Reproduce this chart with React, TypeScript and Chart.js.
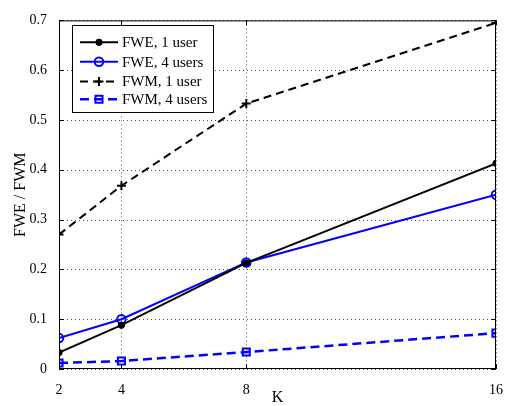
import React, { useEffect, useRef } from "react";
import { Chart, registerables } from "chart.js";
Chart.register(...registerables);

const kValues = [2, 4, 8, 16];
const fwe1 = [0.033, 0.088, 0.213, 0.413];
const fwe4 = [0.062, 0.1, 0.214, 0.35];
const fwm1 = [0.27, 0.368, 0.533, 0.695];
const fwm4 = [0.012, 0.016, 0.034, 0.072];
const seriesNames = ["FWE, 1 user", "FWE, 4 users", "FWM, 1 user", "FWM, 4 users"];
const yTicks = [0, 0.1, 0.2, 0.3, 0.4, 0.5, 0.6, 0.7];
const xTitle = "K";
const yTitle = "FWE / FWM";

const FONT = "'Liberation Serif', 'Times New Roman', serif";

function marker(ctx: any, ds: any, x: number, y: number) {
  const r = ds.pointRadius;
  ctx.save();
  ctx.strokeStyle = ds.pointBorderColor;
  ctx.fillStyle = ds.pointBackgroundColor;
  ctx.lineWidth = ds.pointBorderWidth;
  ctx.setLineDash([]);
  ctx.beginPath();
  if (ds.pointStyle === "circle") {
    ctx.arc(x, y, r, 0, Math.PI * 2);
    ctx.fill();
    ctx.stroke();
  } else if (ds.pointStyle === "rect") {
    const s = r * Math.SQRT1_2 * 2;
    ctx.rect(x - s / 2, y - s / 2, s, s);
    ctx.fill();
    ctx.stroke();
  } else if (ds.pointStyle === "cross") {
    ctx.moveTo(x - r, y);
    ctx.lineTo(x + r, y);
    ctx.moveTo(x, y - r);
    ctx.lineTo(x, y + r);
    ctx.stroke();
  }
  ctx.restore();
}

const gridPlugin = {
  id: "dotGrid",
  beforeDatasetsDraw(chart: any) {
    const { ctx, chartArea: a, scales } = chart;
    ctx.save();
    ctx.strokeStyle = "#555";
    ctx.lineWidth = 1;
    ctx.setLineDash([1, 3]);
    ctx.beginPath();
    for (const v of kValues) {
      const x = Math.round(scales.x.getPixelForValue(v)) + 0.5;
      ctx.moveTo(x, a.top);
      ctx.lineTo(x, a.bottom);
    }
    for (const v of yTicks) {
      const y = Math.round(scales.y.getPixelForValue(v)) + 0.5;
      ctx.moveTo(a.left, y);
      ctx.lineTo(a.right, y);
    }
    ctx.stroke();
    ctx.restore();
  },
};

const frame = {
  id: "frame",
  afterDatasetsDraw(chart: any) {
    const { ctx, chartArea: a, scales } = chart;
    ctx.save();
    ctx.strokeStyle = "#000";
    ctx.lineWidth = 1;
    ctx.strokeRect(a.left + 0.5, a.top + 0.5, a.right - a.left - 1, a.bottom - a.top - 1);
    ctx.beginPath();
    for (const v of kValues) {
      const x = Math.round(scales.x.getPixelForValue(v)) + 0.5;
      ctx.moveTo(x, a.bottom);
      ctx.lineTo(x, a.bottom - 5);
      ctx.moveTo(x, a.top);
      ctx.lineTo(x, a.top + 5);
    }
    for (const v of yTicks) {
      const y = Math.round(scales.y.getPixelForValue(v)) + 0.5;
      ctx.moveTo(a.left, y);
      ctx.lineTo(a.left + 5, y);
      ctx.moveTo(a.right, y);
      ctx.lineTo(a.right - 5, y);
    }
    ctx.stroke();

    // axis titles
    ctx.fillStyle = "#000";
    ctx.font = `16px ${FONT}`;
    ctx.textAlign = "center";
    ctx.textBaseline = "middle";
    ctx.fillText(xTitle, (a.left + a.right) / 2, a.bottom + 29);
    ctx.save();
    ctx.translate(13, (a.top + a.bottom) / 2);
    ctx.rotate(-Math.PI / 2);
    ctx.fillText(yTitle, 0, 0);
    ctx.restore();

    // legend
    const lx = 64, ly = 17, lw = 141, lh = 87;
    ctx.fillStyle = "#fff";
    ctx.fillRect(lx, ly, lw, lh);
    ctx.strokeRect(lx + 0.5, ly + 0.5, lw, lh);
    const rows = [34.3, 53.7, 73.5, 91.3];
    chart.data.datasets.forEach((ds: any, i: number) => {
      const y = rows[i];
      ctx.save();
      ctx.strokeStyle = ds.borderColor;
      ctx.lineWidth = ds.borderWidth;
      ctx.setLineDash(ds.borderDash || []);
      ctx.beginPath();
      ctx.moveTo(72, y);
      ctx.lineTo(110, y);
      ctx.stroke();
      ctx.restore();
      marker(ctx, ds, 91, y);
      ctx.fillStyle = "#000";
      ctx.font = `15px ${FONT}`;
      ctx.textAlign = "left";
      ctx.textBaseline = "middle";
      ctx.fillText(ds.label, 114, y + 1);
    });
    ctx.restore();
  },
};

export default function App() {
  const ref = useRef<HTMLCanvasElement>(null);
  useEffect(() => {
    const mk = (d: number[]) => d.map((y, i) => ({ x: kValues[i], y }));
    const chart = new Chart(ref.current!, {
      type: "line",
      data: {
        datasets: [
          {
            label: seriesNames[0],
            data: mk(fwe1),
            borderColor: "#000",
            borderWidth: 2,
            pointStyle: "circle",
            pointRadius: 3.2,
            pointBackgroundColor: "#000",
            pointBorderColor: "#000",
            pointBorderWidth: 1,
          },
          {
            label: seriesNames[1],
            data: mk(fwe4),
            borderColor: "#0000ff",
            borderWidth: 2,
            pointStyle: "circle",
            pointRadius: 4.3,
            pointBackgroundColor: "rgba(0,0,0,0)",
            pointBorderColor: "#0000ff",
            pointBorderWidth: 2,
          },
          {
            label: seriesNames[2],
            data: mk(fwm1),
            borderColor: "#000",
            borderWidth: 2,
            borderDash: [8, 5],
            pointStyle: "cross",
            pointRadius: 4.5,
            pointBackgroundColor: "#000",
            pointBorderColor: "#000",
            pointBorderWidth: 2,
          },
          {
            label: seriesNames[3],
            data: mk(fwm4),
            borderColor: "#0000ff",
            borderWidth: 2.5,
            borderDash: [9, 5],
            pointStyle: "rect",
            pointRadius: 5,
            pointBackgroundColor: "rgba(0,0,0,0)",
            pointBorderColor: "#0000ff",
            pointBorderWidth: 2,
          },
        ] as any,
      },
      options: {
        animation: false,
        responsive: false,
        layout: { padding: { top: 10, right: 3, left: 0, bottom: 0 } },
        plugins: { legend: { display: false }, tooltip: { enabled: false } },
        elements: { line: { tension: 0 } },
        scales: {
          x: {
            type: "linear",
            min: 2,
            max: 16,
            afterBuildTicks: (s: any) => {
              s.ticks = kValues.map((v) => ({ value: v }));
            },
            afterFit: (s: any) => {
              s.height = 37;
            },
            grid: { display: false },
            border: { display: false },
            ticks: { color: "#000", font: { family: FONT, size: 14 }, padding: 5, maxRotation: 0 },
          },
          y: {
            min: 0,
            max: 0.7,
            afterBuildTicks: (s: any) => {
              s.ticks = yTicks.map((v) => ({ value: v }));
            },
            afterFit: (s: any) => {
              s.width = 51;
            },
            grid: { display: false },
            border: { display: false },
            ticks: {
              color: "#000",
              font: { family: FONT, size: 14 },
              padding: 4,
              callback: (v: any) => String(Math.round(v * 10) / 10),
            },
          },
        },
      } as any,
      plugins: [gridPlugin, frame],
    });
    return () => chart.destroy();
  }, []);
  return (
    <div style={{ width: 500, height: 398 }}>
      <canvas ref={ref} width={500} height={398} style={{ display: "block" }} />
    </div>
  );
}
